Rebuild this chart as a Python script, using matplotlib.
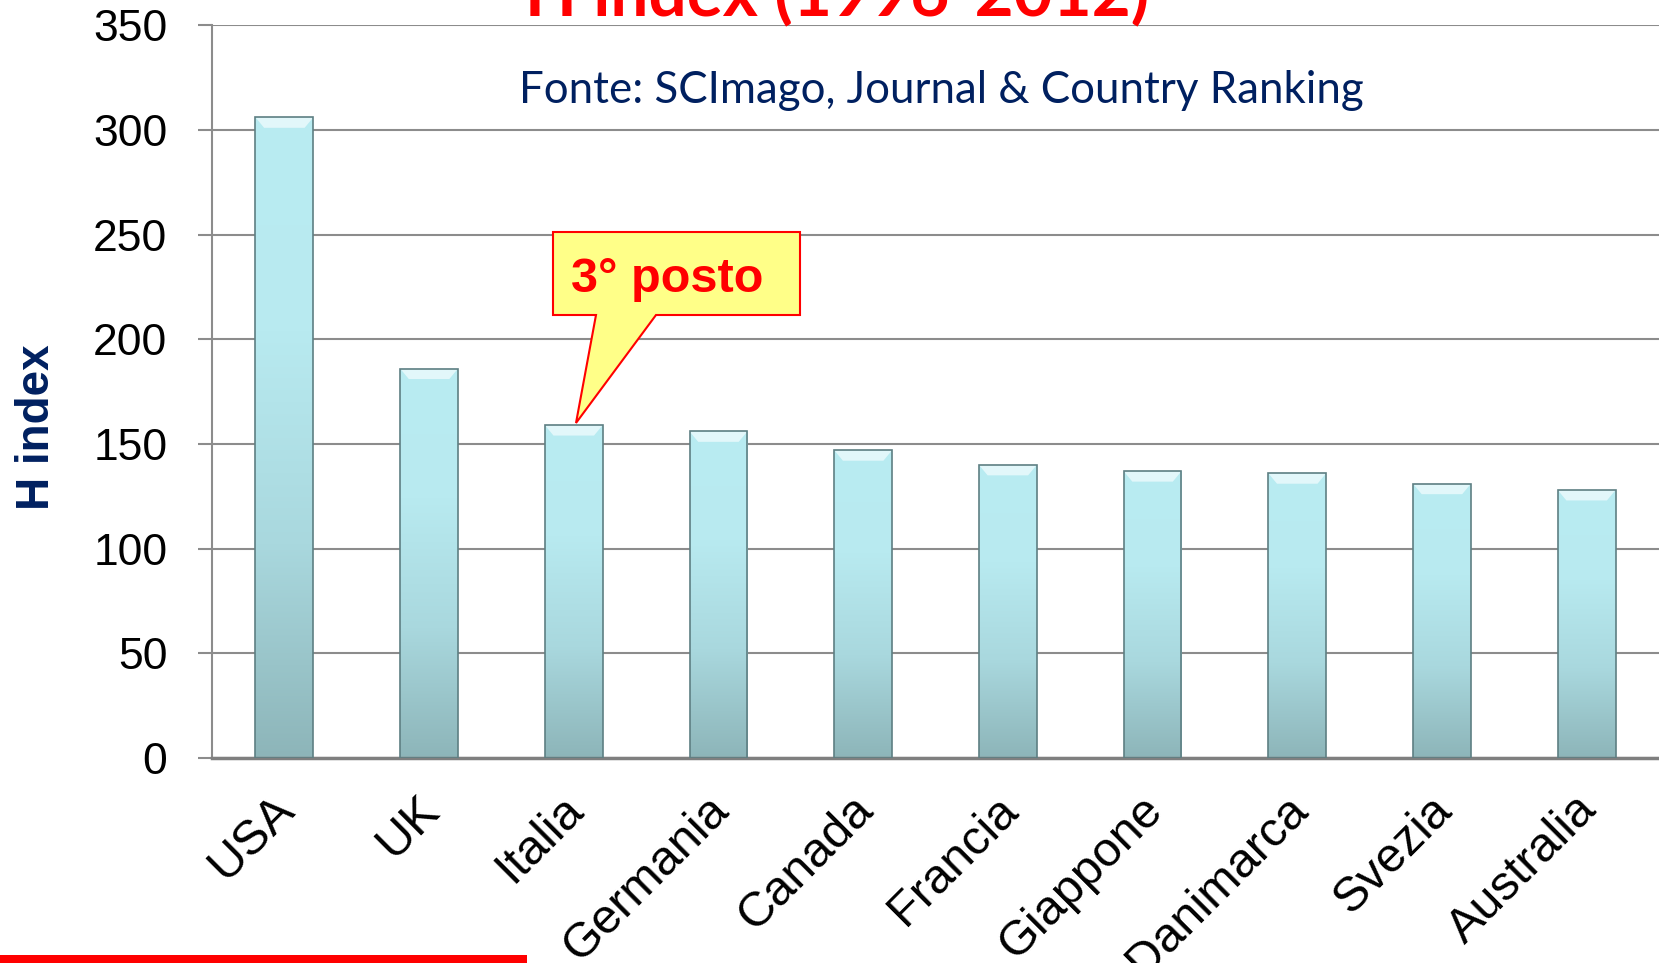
"""Grafico a barre dell'H index per paese (1996-2012), fonte SCImago."""
import matplotlib
matplotlib.use("Agg")
import matplotlib.pyplot as plt
import numpy as np
from matplotlib.colors import LinearSegmentedColormap
from matplotlib.patches import Polygon, Rectangle
from matplotlib.transforms import ScaledTranslation

paesi = ["USA", "UK", "Italia", "Germania", "Canada", "Francia",
         "Giappone", "Danimarca", "Svezia", "Australia"]
h_index = [306, 186, 159, 156, 147, 140, 137, 136, 131, 128]
y_ticks = [0, 50, 100, 150, 200, 250, 300, 350]

NAVY = "#002060"
RED = "#FF0000"
GRID = "#8C8C8C"

fig = plt.figure(figsize=(16.59, 9.63), dpi=100)
ax = fig.add_axes([0.1278, 0.2129, 0.8722, 0.7609])

x = np.arange(len(paesi))
bars = ax.bar(x, h_index, width=0.4, color="none", edgecolor="#5E7F83",
              linewidth=1.2, zorder=3)

# riempimento sfumato delle barre (chiaro in alto, più scuro in basso)
cmap = LinearSegmentedColormap.from_list("barre", ["#8DB5B9", "#A9D8DE", "#B8EAF0", "#B9ECF2"])
grad = np.linspace(0, 1, 256).reshape(-1, 1)
for b in bars:
    x0, w, hgt = b.get_x(), b.get_width(), b.get_height()
    im = ax.imshow(grad, extent=[x0, x0 + w, 0, hgt], origin="lower",
                   cmap=cmap, aspect="auto", zorder=2)
    im.set_clip_path(b)
    # bordo smussato in alto
    bev = Polygon([[x0, hgt], [x0 + w, hgt], [x0 + w * 0.85, hgt - 5],
                   [x0 + w * 0.15, hgt - 5]], closed=True,
                  facecolor="#E2F7FA", edgecolor="none", zorder=2.5)
    ax.add_patch(bev)

ax.set_xlim(-0.5, len(paesi) - 0.5)
ax.set_ylim(0, 350)
ax.set_yticks(y_ticks)
ax.set_xticks(x)
ax.set_xticklabels([])
ax.tick_params(axis="x", length=0, pad=0)
ax.tick_params(axis="y", length=14 * 0.72, width=1.5, color=GRID, pad=22,
               labelsize=32)
for lab in ax.get_yticklabels():
    lab.set_family("Liberation Sans")

# etichette dei paesi ruotate a 45°, spostate sotto l'asse
off = ax.get_xaxis_transform() + ScaledTranslation(0.03, -0.45, fig.dpi_scale_trans)
for xi, nome in zip(x, paesi):
    ax.text(xi, 0, nome, transform=off, rotation=45, ha="right", va="center",
            rotation_mode="anchor", fontsize=35, family="Liberation Sans",
            clip_on=False)

ax.grid(axis="y", color=GRID, linewidth=1.5, zorder=1)
ax.set_axisbelow(True)
for s in ["top", "right"]:
    ax.spines[s].set_visible(False)
ax.spines["left"].set_color(GRID)
ax.spines["left"].set_linewidth(1.5)
ax.spines["bottom"].set_color("#7F7F7F")
ax.spines["bottom"].set_linewidth(2.5)

# titolo (tagliato in alto come nell'originale)
fig.text(0.5045, 1 - 16 / 963, "H index (1996-2012)", ha="center", va="baseline",
         color=RED, fontsize=48.5, fontweight="bold", family="Lato")
fig.text(0.5676, 1 - 103 / 963, "Fonte: SCImago, Journal & Country Ranking",
         ha="center", va="baseline", color=NAVY, fontsize=31.6, family="Lato")
fig.text(37 / 1659, 1 - 427 / 963, "H index", rotation=90, ha="center", va="center",
         color=NAVY, fontsize=33, fontweight="bold", family="Liberation Sans")

# fumetto "3° posto"
tr = fig.transFigure
W, H = 1659, 963
callout = [(553, 232), (800, 232), (800, 315), (656, 315), (576, 423),
           (596, 315), (553, 315)]
fig.patches.append(Polygon([(px / W, 1 - py / H) for px, py in callout], closed=True,
                           transform=tr, facecolor="#FFFF88", edgecolor=RED,
                           linewidth=1.5, zorder=5))
fig.text(667 / W, 1 - 292 / H, "3° posto", ha="center", va="baseline", color=RED,
         fontsize=35, fontweight="bold", family="Liberation Sans", zorder=6)

# barra rossa in basso a sinistra
fig.patches.append(Rectangle((0, 0), 527 / W, 8 / H, transform=tr,
                             facecolor=RED, edgecolor="none"))

fig.savefig("out.png", dpi=100)
